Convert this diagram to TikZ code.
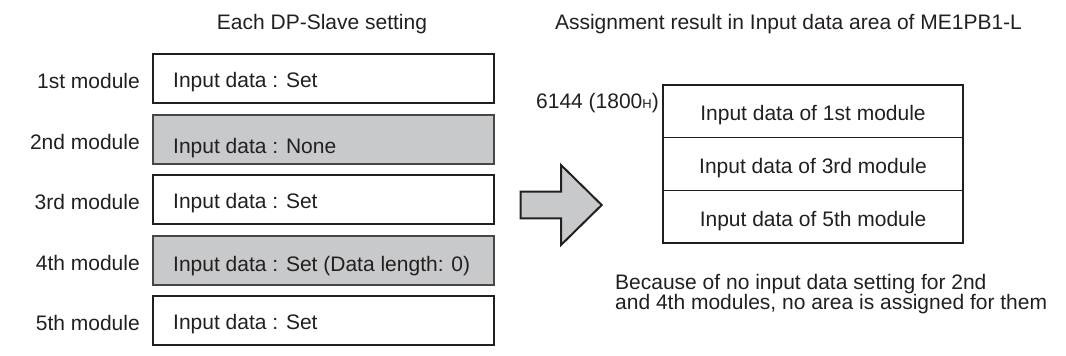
\documentclass[tikz,border=0pt]{standalone}
\usepackage{fontspec}
\setmainfont{Liberation Sans}
\definecolor{txt}{HTML}{231F20}
\definecolor{boxgray}{HTML}{C8C9CB}
\begin{document}
\begin{tikzpicture}[x=1pt,y=-1pt,
  font=\fontsize{21}{20}\selectfont, text=txt,
  setbox/.style={draw=txt, line width=1.4pt, fill=white, minimum width=341pt, minimum height=49pt, inner sep=0pt},
  nonebox/.style={setbox, fill=boxgray, draw=black!72, line width=1.9pt},
  modlabel/.style={anchor=base east, inner sep=0pt},
  boxtext/.style={anchor=base west, inner sep=0pt},
  plain/.style={anchor=base, inner sep=0pt},
  rowbox/.style={draw=txt, line width=1.1pt, minimum width=300pt, minimum height=52.67pt, inner sep=0pt, text height=19pt, text depth=0pt},
  bigarrow/.style={draw=txt, line width=2pt, fill=boxgray, line join=miter}
]
\useasboundingbox (0,0) rectangle (1066,356);

% titles
\node[plain] (titleL) at (322,29) {Each DP-Slave setting};
\node[plain] (titleR) at (788.5,29) {Assignment result in Input data area of ME1PB1-L};

% left boxes
\node[setbox]  (b1) at (323.5,78.5)  {};
\node[nonebox] (b2) at (323.5,139.5) {};
\node[setbox]  (b3) at (323.5,199.5) {};
\node[nonebox] (b4) at (323.5,260.5) {};
\node[setbox]  (b5) at (323.5,320.5) {};

\node[modlabel] (m1) at (140,88)  {1st module};
\node[modlabel] (m2) at (140,149) {2nd module};
\node[modlabel] (m3) at (140,209) {3rd module};
\node[modlabel] (m4) at (140,270) {4th module};
\node[modlabel] (m5) at (140,330) {5th module};

\node[boxtext] (s1) at (173,87)  {Input data : Set};
\node[boxtext] (s2) at (173,153) {Input data : None};
\node[boxtext] (s3) at (173,208) {Input data : Set};
\node[boxtext] (s4) at (173,271) {Input data : Set (Data length: 0)};
\node[boxtext] (s5) at (173,329) {Input data : Set};

% big arrow
\draw[bigarrow] (520.7,191.7) -- (561,191.7) -- (561,165) -- (601.7,205)
  -- (561,245) -- (561,218.3) -- (520.7,218.3) -- cycle;

% right area
\node[rowbox] (r1) at (813,111.3) {Input data of 1st module};
\node[rowbox] (r2) at (813,164)   {Input data of 3rd module};
\node[rowbox] (r3) at (813,216.7) {Input data of 5th module};

\node[anchor=base east, inner sep=0pt] (addr) at (659,108)
  {6144 (1800{\fontsize{13}{13}\selectfont H})};

\node[anchor=base west, inner sep=0pt] (note1) at (615,289)
  {Because of no input data setting for 2nd};
\node[anchor=base west, inner sep=0pt] (note2) at (615,309)
  {and 4th modules, no area is assigned for them};
\end{tikzpicture}
\end{document}
